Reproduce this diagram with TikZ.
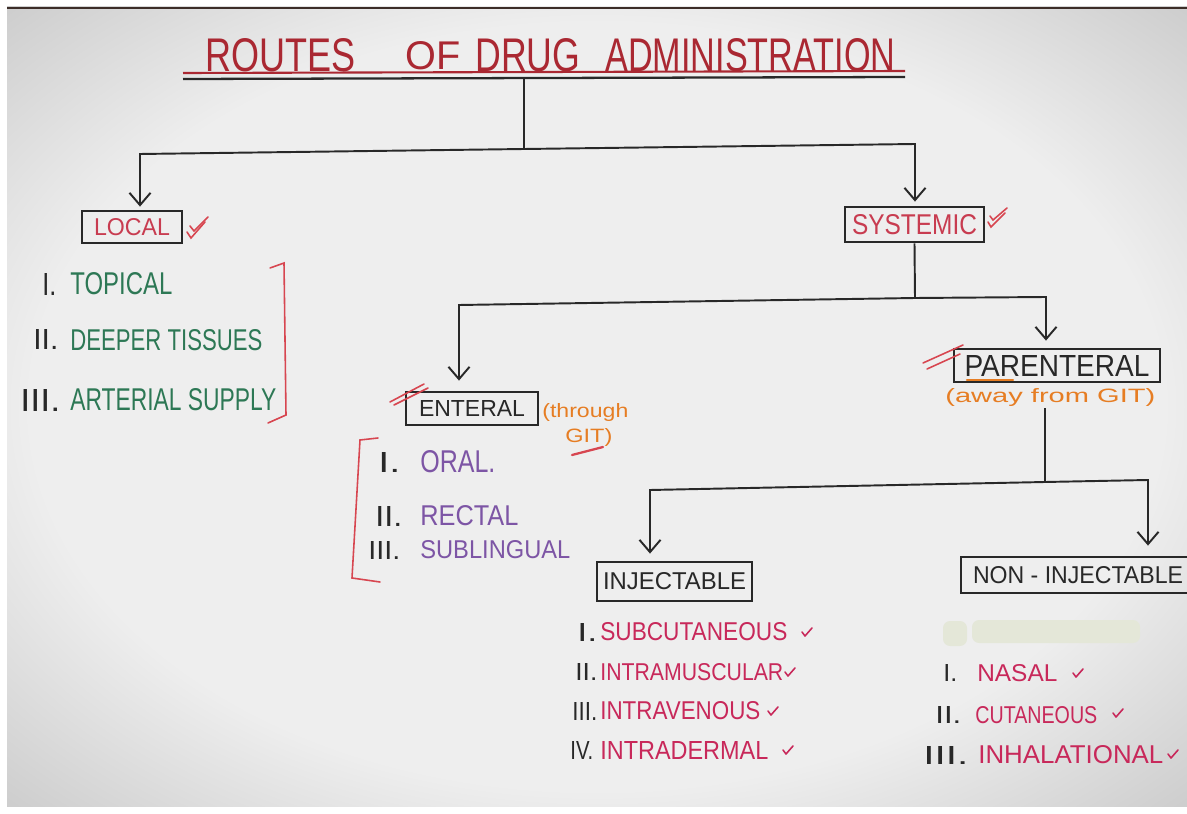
\documentclass[tikz,border=0pt]{standalone}
\usepackage{fontspec}
\setmainfont{Liberation Sans}
\usepackage{graphicx}
\usetikzlibrary{arrows.meta,calc}
\newlength\pxu \setlength\pxu{0.02cm}
\newcommand\ft[3]{\resizebox{#1\pxu}{#2\pxu}{#3}}
\definecolor{paperA}{RGB}{238,238,238}
\definecolor{paperB}{RGB}{192,192,192}
\definecolor{edgeline}{RGB}{60,45,40}
\definecolor{titlered}{RGB}{170,40,50}
\definecolor{boxred}{RGB}{200,60,80}
\definecolor{greenink}{RGB}{45,120,85}
\definecolor{purpleink}{RGB}{125,85,165}
\definecolor{crimson}{RGB}{200,40,90}
\definecolor{orangeink}{RGB}{230,125,35}
\definecolor{ink}{RGB}{40,40,40}
\definecolor{markred}{RGB}{215,70,80}
\definecolor{whiteout}{RGB}{228,231,216}
\pgfdeclareradialshading{paperbg}{\pgfpoint{0bp}{0bp}}{color(0bp)=(paperA); color(24bp)=(paperA); color(40bp)=(paperB); color(50bp)=(paperB)}
\begin{document}
\begin{tikzpicture}[x=0.02cm,y=-0.02cm,
  txt/.style={inner sep=0pt, anchor=west},
  numtxt/.style={txt, text=ink},
  boxnode/.style={draw=ink, line width=1.6pt, inner sep=0pt},
  conn/.style={draw=ink, line width=1.1pt},
  arr/.style={conn, -{Straight Barb[length=7pt,width=12pt]}},
  redmark/.style={draw=markred, line width=0.9pt, line cap=round},
  chkline/.style={draw=crimson, line width=0.9pt, line cap=round, line join=round},
  chk/.pic={\draw[chkline] (0,0) -- (3,4) -- (10,-4);}
]
\useasboundingbox (0,0) rectangle (1187,814);
\fill[white] (0,0) rectangle (1187,814);
\shade[shading=paperbg] (7,7) rectangle (1187,806);
\draw[edgeline, line width=1.5pt] (7,8) -- (1187,8);

% ---------- title ----------
\node[txt, text=titlered] (tw1) at (205,55) {\ft{150}{33}{ROUTES}};
\node[txt, text=titlered] (tw2) at (405,56) {\ft{55}{28}{OF}};
\node[txt, text=titlered] (tw3) at (475,55) {\ft{105}{33}{DRUG}};
\node[txt, text=titlered] (tw4) at (605,55) {\ft{290}{33}{ADMINISTRATION}};
\draw[titlered, line width=1.2pt] (183,73) -- (905,71);
\draw[ink, line width=1.3pt] (183,79) -- (905,77);
\coordinate (tl) at (524,79);

% ---------- boxes ----------
\node[boxnode, minimum width=2cm, minimum height=0.64cm, text=boxred] (local) at (132,227) {\ft{76}{17}{LOCAL}};
\node[boxnode, minimum width=2.78cm, minimum height=0.7cm, text=boxred] (systemic) at (914.5,224.5) {\ft{125}{20}{SYSTEMIC}};
\node[boxnode, minimum width=2.64cm, minimum height=0.66cm, text=ink] (enteral) at (472,408.5) {\ft{106}{16}{ENTERAL}};
\node[boxnode, minimum width=4.12cm, minimum height=0.66cm, text=ink] (parenteral) at (1057,365.5) {\ft{185}{21}{PARENTERAL}};
\node[boxnode, minimum width=3.1cm, minimum height=0.78cm, text=ink] (inj) at (674.5,581.5) {\ft{143}{17}{INJECTABLE}};
\node[boxnode, minimum width=4.68cm, minimum height=0.72cm, text=ink] (noninj) at (1078,575) {\ft{210}{17}{NON - INJECTABLE}};

% ---------- connectors ----------
\coordinate (j1) at (524,149);
\coordinate (c1) at (140,154);
\coordinate (c2) at (915,144);
\draw[conn] (tl) -- (j1);
\draw[arr] (j1) -- (c1) -- ($(local.north)+(8,-3)$);
\draw[arr] (j1) -- (c2) -- ($(systemic.north)+(0.5,-4)$);

\coordinate (j2) at (915,298);
\coordinate (c3) at (459,305);
\coordinate (c4) at (1046,297);
\draw[conn] (systemic.south) -- (j2);
\draw[arr] (j2) -- (c3) -- ($(enteral.north)+(-13,-10)$);
\draw[arr] (j2) -- (c4) -- ($(parenteral.north)+(-11,-7)$);

\coordinate (pv) at (1045,408);
\coordinate (j3) at (1045,482);
\coordinate (c5) at (650,490);
\coordinate (c6) at (1148,480);
\draw[conn] (pv) -- (j3);
\draw[arr] (j3) -- (c5) -- ($(inj.north)+(-24.5,-7)$);
\draw[arr] (j3) -- (c6) -- ($(noninj.north)+(70,-10)$);

% ---------- red marks ----------
\draw[redmark] (187,232) -- (191,238) -- (205,222);
\draw[redmark] (190,226) -- (194,231) -- (208,217);
\draw[redmark] (988,222) -- (991,227) -- (1005,213);
\draw[redmark] (990,216) -- (993,220) -- (1007,208);
\draw[redmark] (390,402) -- (424,384);
\draw[redmark] (394,405) -- (428,388);
\draw[redmark] (923,363) -- (963,345);
\draw[redmark] (927,369) -- (960,354);
\draw[redmark, line width=1.3pt] (572,455) -- (603,447);
\draw[orangeink, line width=1.3pt, line cap=round] (967,380) -- (1013,380);

% ---------- local list ----------
\draw[redmark] (270,268) -- (284,263) -- (286,415) -- (268,423);
\node[numtxt] (l1n) at (42,285) {\ft{14}{22}{I.}};
\node[txt, text=greenink] (l1) at (70,284) {\ft{102}{22}{TOPICAL}};
\node[numtxt] (l2n) at (33,340) {\ft{25}{20}{II.}};
\node[txt, text=greenink] (l2) at (70,340) {\ft{192}{21}{DEEPER TISSUES}};
\node[numtxt] (l3n) at (20,400) {\ft{40}{22}{III.}};
\node[txt, text=greenink] (l3) at (70,400) {\ft{206}{22}{ARTERIAL SUPPLY}};

% ---------- enteral ----------
\node[txt, text=orangeink] (thr) at (542,413) {\ft{86}{14}{(through}};
\node[txt, text=orangeink] (git) at (565,437) {\ft{47}{14}{GIT)}};
\draw[redmark] (378,438) -- (360,440) -- (352,578) -- (380,582);
\node[numtxt] (e1n) at (378,462) {\ft{22}{20}{I.}};
\node[txt, text=purpleink] (e1) at (420,462) {\ft{75}{22}{ORAL.}};
\node[numtxt] (e2n) at (375,516) {\ft{27}{20}{II.}};
\node[txt, text=purpleink] (e2) at (420,516) {\ft{98}{20}{RECTAL}};
\node[numtxt] (e3n) at (368,550) {\ft{32}{18}{III.}};
\node[txt, text=purpleink] (e3) at (420,550) {\ft{150}{18}{SUBLINGUAL}};

% ---------- parenteral ----------
\node[txt, text=orangeink] (away) at (945,398) {\ft{210}{14}{(away from GIT)}};

% ---------- injectable list ----------
\node[numtxt] (i1n) at (577,632) {\ft{20}{18}{I.}};
\node[txt, text=crimson] (i1) at (600,632) {\ft{187}{18}{SUBCUTANEOUS}};
\node[numtxt] (i2n) at (575,672) {\ft{22}{17}{II.}};
\node[txt, text=crimson] (i2) at (600,672) {\ft{183}{17}{INTRAMUSCULAR}};
\node[numtxt] (i3n) at (572,711) {\ft{25}{18}{III.}};
\node[txt, text=crimson] (i3) at (600,711) {\ft{160}{18}{INTRAVENOUS}};
\node[numtxt] (i4n) at (570,750) {\ft{23}{18}{IV.}};
\node[txt, text=crimson] (i4) at (600,750) {\ft{168}{18}{INTRADERMAL}};
\pic at (802,632) {chk};
\pic at (785,672) {chk};
\pic at (768,711) {chk};
\pic at (783,750) {chk};

% ---------- non-injectable list ----------
\fill[whiteout, rounded corners=4pt] (943,621) rectangle (967,646);
\fill[whiteout, rounded corners=4pt] (972,620) rectangle (1140,643);
\node[numtxt] (n1n) at (943,673) {\ft{14}{17}{I.}};
\node[txt, text=crimson] (n1) at (977,673) {\ft{80}{17}{NASAL}};
\node[numtxt] (n2n) at (935,715) {\ft{26}{17}{II.}};
\node[txt, text=crimson] (n2) at (975,715) {\ft{122}{17}{CUTANEOUS}};
\node[numtxt] (n3n) at (923,755) {\ft{45}{18}{III.}};
\node[txt, text=crimson] (n3) at (978,755) {\ft{185}{18}{INHALATIONAL}};
\pic at (1073,673) {chk};
\pic at (1113,713) {chk};
\pic at (1168,754) {chk};
\end{tikzpicture}
\end{document}
